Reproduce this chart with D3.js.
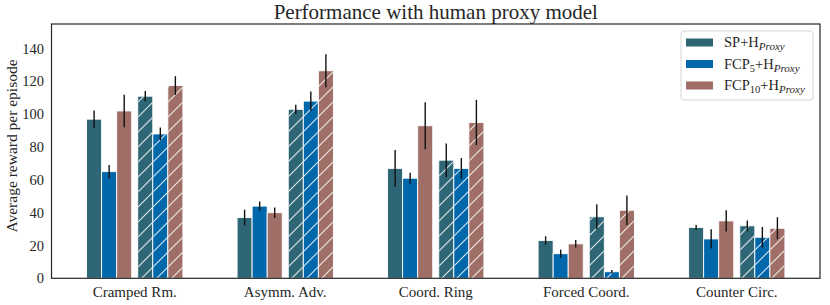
<!DOCTYPE html>
<html>
<head>
<meta charset="utf-8">
<script src="https://cdn.jsdelivr.net/npm/d3@7"></script>
<style>
  body { margin: 0; background: #fff; }
  text { font-family: "Liberation Serif", "DejaVu Serif", serif; fill: #262626; }
</style>
</head>
<body>
<script>
// categories (layouts) and series
var layouts = ["Cramped Rm.", "Asymm. Adv.", "Coord. Ring", "Forced Coord.", "Counter Circ."];
var series = ["SP", "FCP5", "FCP10"];
var colors = ["#2e6675", "#0067aa", "#9f6f67"];

// solid bars (first triplet)
var solidMean = [
  [97, 37, 67, 23, 31],
  [65, 44, 61, 15, 24],
  [102, 40, 93, 21, 35]
];
var solidErr = [
  [5.3, 4.8, 11.2, 2.6, 1.5],
  [4.1, 2.8, 3.3, 2.5, 5.9],
  [9.9, 3.2, 14.3, 2.3, 6.5]
];
// hatched bars (second triplet)
var hatchMean = [
  [111, 103, 72, 37.5, 32],
  [88, 108, 67, 4, 25],
  [117.5, 126.5, 95, 41.5, 30.5]
];
var hatchErr = [
  [3.2, 2.8, 10.2, 7.6, 3.2],
  [3.9, 5.8, 6.3, 1.0, 6.3],
  [5.7, 10, 13.8, 9, 6.7]
];
var yTicks = [0, 20, 40, 60, 80, 100, 120, 140];

var width = 830, height = 305;
var mLeft = 51.5, mRight = 820, mTop = 24, mBottom = 278.3;

var svg = d3.select("body").append("svg")
    .attr("width", width)
    .attr("height", height);

var defs = svg.append("defs");
var pat = defs.append("pattern")
    .attr("id", "hatch")
    .attr("patternUnits", "userSpaceOnUse")
    .attr("width", 15)
    .attr("height", 15);
pat.append("path")
    .attr("d", "M-2,17 L17,-2 M-2,2 L2,-2 M13,17 L17,13")
    .attr("stroke", "#fff")
    .attr("stroke-opacity", 0.85)
    .attr("stroke-width", 1.1);

var x = d3.scaleLinear().domain([-0.553, 4.553]).range([mLeft, mRight]);
var y = d3.scaleLinear().domain([0, 155]).range([mBottom, mTop]);

var barW = 0.1;
var solidOff = [-0.27, -0.17, -0.07];
var hatchOff = [0.07, 0.17, 0.27];

// flatten into bar records
var bars = [];
series.forEach(function(s, si) {
  layouts.forEach(function(l, li) {
    bars.push({ s: si, c: li, off: solidOff[si], v: solidMean[si][li], e: solidErr[si][li], hatched: false });
    bars.push({ s: si, c: li, off: hatchOff[si], v: hatchMean[si][li], e: hatchErr[si][li], hatched: true });
  });
});

var g = svg.append("g");

g.selectAll(".bar")
    .data(bars)
    .enter()
    .append("rect")
    .attr("class", "bar")
    .attr("x", function(d) { return x(d.c + d.off - barW / 2); })
    .attr("width", function(d) { return x(barW) - x(0); })
    .attr("y", function(d) { return y(d.v); })
    .attr("height", function(d) { return y(0) - y(d.v); })
    .attr("fill", function(d) { return colors[d.s]; })
    .attr("stroke", "#fff")
    .attr("stroke-width", 0.9);

g.selectAll(".hatch")
    .data(bars.filter(function(d) { return d.hatched; }))
    .enter()
    .append("rect")
    .attr("class", "hatch")
    .attr("x", function(d) { return x(d.c + d.off - barW / 2) + 0.5; })
    .attr("width", function(d) { return x(barW) - x(0) - 1; })
    .attr("y", function(d) { return y(d.v) + 0.5; })
    .attr("height", function(d) { return y(0) - y(d.v) - 0.5; })
    .attr("fill", "url(#hatch)");

g.selectAll(".err")
    .data(bars)
    .enter()
    .append("line")
    .attr("class", "err")
    .attr("x1", function(d) { return x(d.c + d.off); })
    .attr("x2", function(d) { return x(d.c + d.off); })
    .attr("y1", function(d) { return y(d.v - d.e); })
    .attr("y2", function(d) { return y(d.v + d.e); })
    .attr("stroke", "#111")
    .attr("stroke-width", 1.4);

// axes frame
svg.append("rect")
    .attr("x", mLeft).attr("y", mTop)
    .attr("width", mRight - mLeft).attr("height", mBottom - mTop)
    .attr("fill", "none")
    .attr("stroke", "#262626")
    .attr("stroke-width", 1.2);

// y tick labels
svg.selectAll(".ytick")
    .data(yTicks)
    .enter()
    .append("text")
    .attr("class", "ytick")
    .attr("x", 44)
    .attr("y", function(d) { return y(d); })
    .attr("dy", "0.35em")
    .attr("text-anchor", "end")
    .style("font-size", "14.5px")
    .text(function(d) { return d; });

// x labels
svg.selectAll(".xlab")
    .data(layouts)
    .enter()
    .append("text")
    .attr("class", "xlab")
    .attr("x", function(d, i) { return x(i); })
    .attr("y", 296.5)
    .attr("text-anchor", "middle")
    .style("font-size", "15px")
    .text(function(d) { return d; });

// y label
svg.append("text")
    .attr("transform", "translate(17,146) rotate(-90)")
    .attr("text-anchor", "middle")
    .style("font-size", "15.5px")
    .text("Average reward per episode");

// title
svg.append("text")
    .attr("x", (mLeft + mRight) / 2)
    .attr("y", 19)
    .attr("text-anchor", "middle")
    .style("font-size", "21px")
    .text("Performance with human proxy model");

// legend
var leg = svg.append("g").attr("transform", "translate(681,31)");
leg.append("rect")
    .attr("width", 132).attr("height", 69)
    .attr("rx", 3)
    .attr("fill", "#fff").attr("fill-opacity", 0.85)
    .attr("stroke", "#d6d6d6");
var legLabels = [["SP", ""], ["FCP", "5"], ["FCP", "10"]];
legLabels.forEach(function(lb, i) {
  var ry = 11.5 + i * 21.5;
  leg.append("rect")
      .attr("x", 5).attr("y", ry - 4)
      .attr("width", 27).attr("height", 8)
      .attr("fill", colors[i]);
  var t = leg.append("text")
      .attr("x", 43).attr("y", ry + 4.5)
      .style("font-size", "14.5px");
  t.append("tspan").text(lb[0]);
  if (lb[1]) t.append("tspan").attr("dy", 3).style("font-size", "10.5px").text(lb[1]);
  t.append("tspan").attr("dy", lb[1] ? -3 : 0).text("+H");
  t.append("tspan").attr("dy", 3).style("font-size", "11px").style("font-style", "italic").text("Proxy");
});
</script>
</body>
</html>
